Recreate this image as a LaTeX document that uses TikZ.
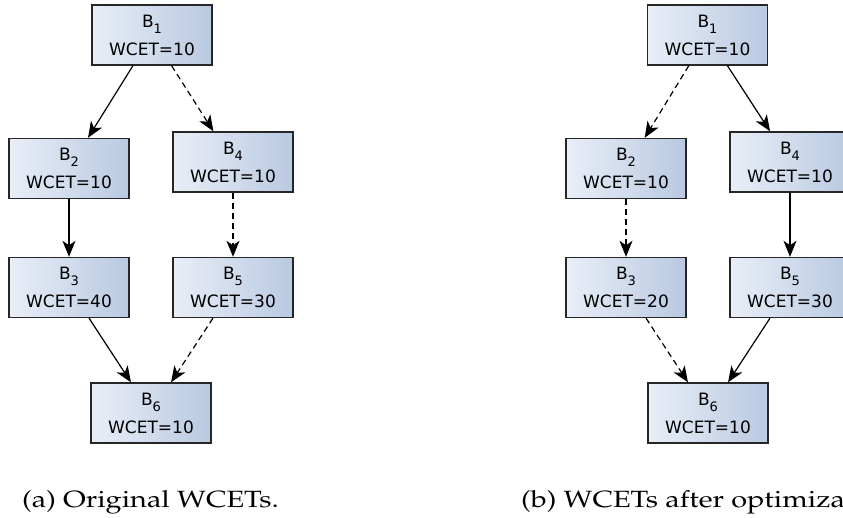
\documentclass[tikz,border=0pt]{standalone}
\usepackage[T1]{fontenc}
\usepackage{fontspec}
\newfontfamily\boxfont{DejaVu Sans}
\usetikzlibrary{arrows.meta}
% block label: name with subscript index, then its WCET
\newcommand{\blk}[2]{B\raisebox{-6pt}{\fontsize{13}{13}\selectfont #1}\\WCET=#2}
\newcommand{\capfont}{\fontencoding{T1}\fontfamily{ppl}\fontsize{23.5}{27}\selectfont}
% wide sub-figure caption
\newcommand{\subcap}[1]{\scalebox{1.23}[1]{#1}}
\begin{document}
\begin{tikzpicture}[x=1pt,y=-1pt,
  blockbox/.style={draw=black!85, line width=1.4pt,
    left color={rgb,255:red,233;green,238;blue,247},
    right color={rgb,255:red,185;green,201;blue,225},
    minimum width=120pt, minimum height=60pt, inner sep=0pt,
    font=\boxfont\fontsize{17}{28}\selectfont, align=center},
  sflow/.style={-{Stealth[length=16pt,width=13pt,inset=4.5pt]}, line width=1.2pt},
  dflow/.style={sflow, dash pattern=on 6pt off 4pt},
  caption/.style={anchor=base, inner sep=0pt, font=\capfont}
]
\useasboundingbox (0,0) rectangle (843,517);
\clip (0,0) rectangle (843,517);

% (a) original WCETs
\node[blockbox] (a1) at (152,35) {\blk{1}{10}};
\node[blockbox] (a2) at (69,168.5) {\blk{2}{10}};
\node[blockbox] (a4) at (233,162) {\blk{4}{10}};
\node[blockbox] (a3) at (69,287.5) {\blk{3}{40}};
\node[blockbox] (a5) at (233,287.5) {\blk{5}{30}};
\node[blockbox] (a6) at (151,413) {\blk{6}{10}};
\draw[sflow] (a1) -- (a2);
\draw[dflow] (a1) -- (a4);
\draw[sflow] (a2) -- (a3);
\draw[dflow] (a4) -- (a5);
\draw[sflow] (a3) -- (a6);
\draw[dflow] (a5) -- (a6);

% (b) WCETs after optimization
\node[blockbox] (b1) at (707.5,35) {\blk{1}{10}};
\node[blockbox] (b2) at (626,168.5) {\blk{2}{10}};
\node[blockbox] (b4) at (790,162) {\blk{4}{10}};
\node[blockbox] (b3) at (626,287.5) {\blk{3}{20}};
\node[blockbox] (b5) at (790,287.5) {\blk{5}{30}};
\node[blockbox] (b6) at (708,413) {\blk{6}{10}};
\draw[dflow] (b1) -- (b2);
\draw[sflow] (b1) -- (b4);
\draw[dflow] (b2) -- (b3);
\draw[sflow] (b4) -- (b5);
\draw[dflow] (b3) -- (b6);
\draw[sflow] (b5) -- (b6);

\node[caption] (capa) at (150.5,507) {\subcap{(a) Original WCETs.}};
\node[caption] (capb) at (712,507) {\subcap{(b) WCETs after optimization.}};
\end{tikzpicture}
\end{document}
